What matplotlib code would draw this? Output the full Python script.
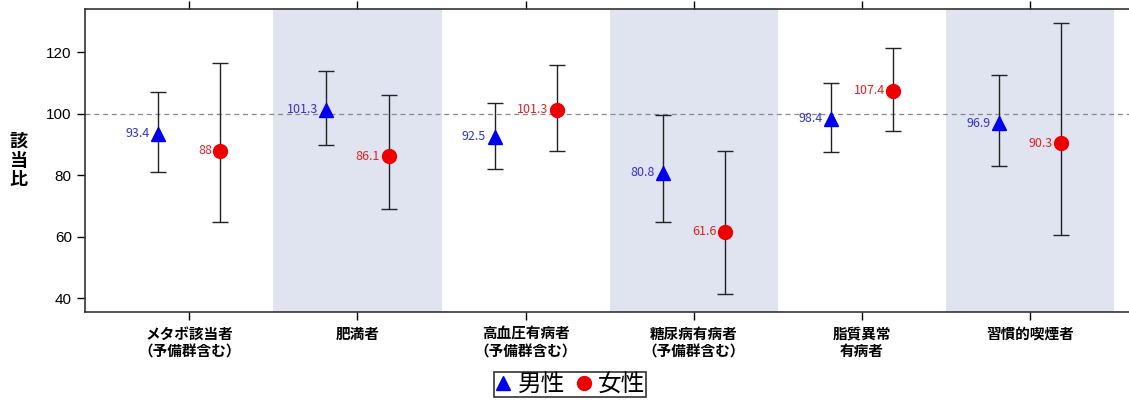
import matplotlib.pyplot as plt
import numpy as np

plt.rcParams["font.family"] = ["Noto Sans CJK JP", "DejaVu Sans"]

# データ
categories = ["メタボ該当者\n（予備群含む）", "肥満者", "高血圧有病者\n（予備群含む）",
              "糖尿病有病者\n（予備群含む）", "脂質異常\n有病者", "習慣的喫煙者"]
male = [93.4, 101.3, 92.5, 80.8, 98.4, 96.9]
male_low = [81.0, 89.8, 82.0, 64.8, 87.6, 82.8]
male_high = [107.0, 113.9, 103.5, 99.6, 109.8, 112.4]
female = [88.0, 86.1, 101.3, 61.6, 107.4, 90.3]
female_low = [64.9, 69.0, 88.0, 41.5, 94.5, 60.6]
female_high = [116.4, 106.2, 115.9, 88.0, 121.3, 129.3]

x = np.arange(len(categories))
off = 0.185
male_c = "#0000ee"
female_c = "#ee0000"

fig = plt.figure(figsize=(11.29, 4), dpi=100)
ax = fig.add_axes([0.0753, 0.22, 0.9265, 0.7575])

# 背景の帯
for i in range(1, len(categories), 2):
    ax.axvspan(i - 0.5, i + 0.5, color="#dfe4f0", lw=0, zorder=0)

ax.axhline(100, color="#888888", ls=(0, (4, 3)), lw=0.9, zorder=1)

m = np.array(male)
f = np.array(female)
ax.errorbar(x - off, m, yerr=[m - np.array(male_low), np.array(male_high) - m],
            fmt="none", ecolor="#222222", elinewidth=1, capsize=6, capthick=1, zorder=2)
ax.errorbar(x + off, f, yerr=[f - np.array(female_low), np.array(female_high) - f],
            fmt="none", ecolor="#222222", elinewidth=1, capsize=6, capthick=1, zorder=2)
ax.plot(x - off, m, "^", color=male_c, ms=10, ls="none", zorder=3)
ax.plot(x + off, f, "o", color=female_c, ms=10, ls="none", zorder=3)

for xi, v in zip(x - off, male):
    ax.annotate(f"{v:g}", (xi, v), xytext=(-6, 0), textcoords="offset points",
                ha="right", va="center", fontsize=9, color="#3333cc", zorder=4)
for xi, v in zip(x + off, female):
    ax.annotate(f"{v:g}", (xi, v), xytext=(-6, 0), textcoords="offset points",
                ha="right", va="center", fontsize=9, color="#dd2222", zorder=4)

ax.set_xlim(-0.62, 5.6)
ax.set_ylim(35.5, 134)
ax.set_yticks([40, 60, 80, 100, 120])
ax.set_xticks(x)
ax.set_xticklabels(categories, fontsize=10.5, fontweight="bold", linespacing=1.1)
ax.tick_params(axis="x", top=True, direction="out", length=6, width=1, pad=4)
ax.tick_params(axis="y", direction="out", length=6, width=1, labelsize=11)
for lbl in ax.get_yticklabels():
    lbl.set_fontfamily(["Liberation Sans", "DejaVu Sans"])
ax.spines["right"].set_visible(False)
for s in ["left", "top", "bottom"]:
    ax.spines[s].set_color("#333333")
    ax.spines[s].set_linewidth(1.2)

ax.set_ylabel("該\n当\n比", rotation=0, fontsize=13, fontweight="bold",
              va="center", ha="center", labelpad=20, linespacing=1.0)

h1 = plt.Line2D([], [], marker="^", color=male_c, ls="none", ms=10)
h2 = plt.Line2D([], [], marker="o", color=female_c, ls="none", ms=10)
leg = fig.legend([h1, h2], ["男性", "女性"], loc="upper center", bbox_to_anchor=(0.505, 0.07),
                 ncol=2, fontsize=17, frameon=True, fancybox=False, edgecolor="#000000",
                 handlelength=0.7, handletextpad=0.25, columnspacing=0.45, borderpad=0.05,
                 borderaxespad=0)
leg.get_frame().set_linewidth(1.2)

fig.savefig("out.png", dpi=100)
